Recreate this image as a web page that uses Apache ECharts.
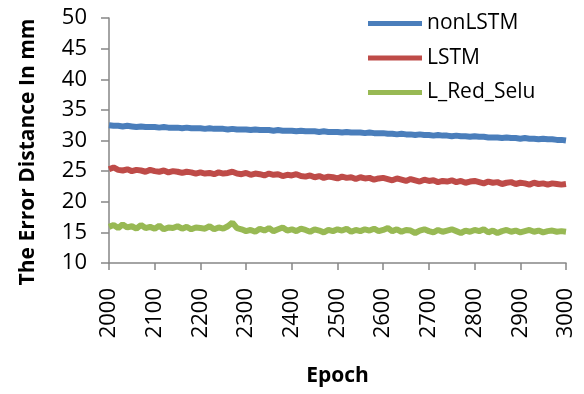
<!DOCTYPE html>
<html>
<head>
<meta charset="utf-8">
<script src="https://cdn.jsdelivr.net/npm/echarts@6/dist/echarts.min.js"></script>
<style>
  html, body { margin: 0; padding: 0; background: #fff; }
  #chart { width: 584px; height: 394px; }
</style>
</head>
<body>
<div id="chart"></div>
<script>
// Epochs sampled every 10 steps from 2000 to 3000
const epochs = [];
for (let e = 2000; e <= 3000; e += 10) epochs.push(e);

const xTicks = [2000, 2100, 2200, 2300, 2400, 2500, 2600, 2700, 2800, 2900, 3000];
const yTicks = [10, 15, 20, 25, 30, 35, 40, 45, 50];

const seriesNames = ['nonLSTM', 'LSTM', 'L_Red_Selu'];

// Error distance (mm) per epoch
const nonLSTM = [
  32.5, 32.4, 32.4, 32.3, 32.4, 32.3, 32.2, 32.3, 32.2, 32.2,
  32.2, 32.1, 32.2, 32.1, 32.1, 32.1, 32.0, 32.1, 32.0, 32.0,
  32.0, 31.9, 32.0, 31.9, 31.9, 31.9, 31.8, 31.9, 31.8, 31.8,
  31.8, 31.7, 31.8, 31.7, 31.7, 31.7, 31.6, 31.7, 31.6, 31.6,
  31.6, 31.5, 31.6, 31.5, 31.5, 31.5, 31.4, 31.5, 31.4, 31.4,
  31.4, 31.3, 31.4, 31.3, 31.3, 31.3, 31.2, 31.3, 31.2, 31.2,
  31.2, 31.1, 31.1, 31.0, 31.1, 31.0, 31.0, 30.9, 31.0, 30.9,
  30.9, 30.8, 30.9, 30.8, 30.8, 30.7, 30.8, 30.7, 30.7, 30.6,
  30.7, 30.6, 30.6, 30.5, 30.5, 30.5, 30.4, 30.5, 30.4, 30.4,
  30.3, 30.4, 30.3, 30.3, 30.2, 30.3, 30.2, 30.2, 30.1, 30.1, 30.0
];

const LSTM = [
  25.3, 25.6, 25.2, 25.1, 25.3, 25.0, 25.2, 25.1, 24.9, 25.2,
  25.0, 24.9, 25.1, 24.8, 25.0, 24.9, 24.7, 24.9, 24.8, 24.6,
  24.8, 24.6, 24.7, 24.5, 24.8, 24.6, 24.7, 24.9, 24.6, 24.5,
  24.7, 24.4, 24.6, 24.5, 24.3, 24.6, 24.4, 24.5, 24.2, 24.4,
  24.3, 24.5, 24.2, 24.1, 24.3, 24.0, 24.2, 23.9, 24.1, 24.0,
  23.8, 24.1, 23.9, 24.0, 23.7, 24.0, 23.8, 23.9, 23.6, 23.8,
  23.9, 23.7, 23.5, 23.8, 23.6, 23.4, 23.7, 23.5, 23.3, 23.6,
  23.4, 23.5, 23.2, 23.4, 23.3, 23.5, 23.2, 23.4, 23.1, 23.3,
  23.4, 23.2, 23.0, 23.3, 23.1, 23.2, 22.9, 23.1, 23.2, 22.9,
  23.1, 23.0, 22.8, 23.1, 22.9, 23.0, 22.8, 23.0, 22.9, 22.8, 22.9
];

const L_Red_Selu = [
  15.9, 16.2, 15.7, 16.3, 15.8, 16.0, 15.6, 16.2, 15.7, 15.9,
  15.6, 16.1, 15.5, 15.8, 15.7, 16.0, 15.6, 15.9, 15.5, 15.8,
  15.7, 15.6, 16.0, 15.5, 15.8, 15.6, 16.0, 16.6, 15.7, 15.5,
  15.2, 15.4, 15.1, 15.6, 15.3, 15.7, 15.2, 15.5, 15.8, 15.3,
  15.5, 15.2, 15.6, 15.4, 15.1, 15.5, 15.3, 15.0, 15.4, 15.2,
  15.5, 15.3, 15.6, 15.1, 15.4, 15.2, 15.5, 15.3, 15.6, 15.2,
  15.4, 15.7, 15.2, 15.5, 15.1, 15.4, 15.3, 14.9, 15.3, 15.5,
  15.2, 15.0, 15.4, 15.1, 15.3, 15.5, 15.2, 14.9, 15.3, 15.1,
  15.4, 15.2, 15.5, 15.0, 15.3, 14.9, 15.2, 15.4, 15.1, 15.3,
  15.0, 15.2, 15.4, 15.1, 15.3, 15.0, 15.2, 15.3, 15.1, 15.2, 15.1
];

const colors = ['#4a7ebb', '#be4b48', '#98b954'];
const FONT = '"Open Sans", Lato, sans-serif';
const axisGray = '#868686';

function pairs(vals) {
  return epochs.map((e, i) => [e, vals[i]]);
}

const chart = echarts.init(document.getElementById('chart'), null, { renderer: 'canvas' });

chart.setOption({
  animation: false,
  color: colors,
  grid: {
    left: 109, right: 18, top: 18, bottom: 131,
    containLabel: false,
    outerBoundsMode: 'none'
  },
  legend: {
    orient: 'vertical',
    left: 368,
    top: 13,
    padding: 0,
    itemWidth: 54,
    itemHeight: 5,
    itemGap: 13.5,
    icon: 'rect',
    data: seriesNames,
    textStyle: { fontFamily: FONT, fontSize: 21, color: '#000' }
  },
  xAxis: {
    type: 'value',
    min: xTicks[0],
    max: xTicks[xTicks.length - 1],
    interval: 100,
    name: 'Epoch',
    nameLocation: 'middle',
    nameGap: 103,
    nameTextStyle: { fontFamily: FONT, fontSize: 21, fontWeight: 'bold', color: '#000' },
    axisLine: { show: true, lineStyle: { color: axisGray, width: 1.5 } },
    axisTick: { show: true, length: 7, lineStyle: { color: axisGray, width: 1.5 } },
    axisLabel: {
      rotate: 90, margin: 25, fontFamily: FONT, fontSize: 22, color: '#000',
      formatter: v => String(v)
    },
    splitLine: { show: false }
  },
  yAxis: {
    type: 'value',
    min: yTicks[0],
    max: yTicks[yTicks.length - 1],
    interval: 5,
    axisLine: { show: true, lineStyle: { color: axisGray, width: 1.5 } },
    axisTick: { show: true, length: 8, lineStyle: { color: axisGray, width: 1.5 } },
    axisLabel: { margin: 22, fontFamily: FONT, fontSize: 22, color: '#000' },
    splitLine: { show: false }
  },
  graphic: [{
    type: 'text',
    x: 28,
    y: 152,
    rotation: Math.PI / 2,
    style: {
      text: 'The Error Distance In mm',
      font: 'bold 21px ' + FONT,
      fill: '#000',
      align: 'center',
      verticalAlign: 'middle'
    }
  }],
  series: [
    { name: seriesNames[0], type: 'line', data: pairs(nonLSTM), showSymbol: false, lineStyle: { width: 6 } },
    { name: seriesNames[1], type: 'line', data: pairs(LSTM), showSymbol: false, lineStyle: { width: 6 } },
    { name: seriesNames[2], type: 'line', data: pairs(L_Red_Selu), showSymbol: false, lineStyle: { width: 6 } }
  ]
});
</script>
</body>
</html>
